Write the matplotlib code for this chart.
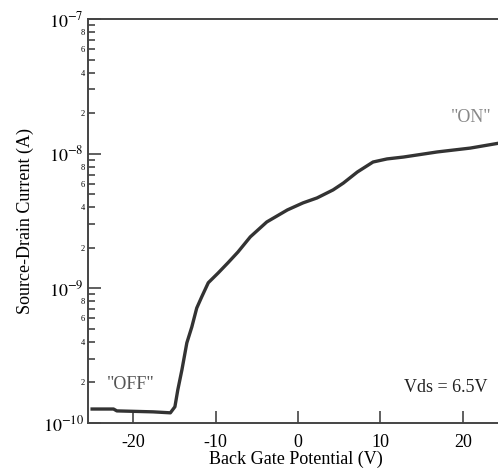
import numpy as np
import matplotlib
matplotlib.use('Agg')
import matplotlib.pyplot as plt
from matplotlib.ticker import LogLocator, FixedLocator, FuncFormatter

# gate voltage (V) and source-drain current (A)
vg = [-25.0, -22.4, -22.0, -17.6, -15.5, -14.95, -14.6, -14.1, -13.5, -12.9,
      -12.3, -11.7, -10.9, -9.7, -8.5, -7.3, -5.8, -3.8, -1.3, 0.6,
      2.3, 4.25, 5.5, 7.2, 9.1, 10.8, 12.8, 16.9, 20.9, 24.5]
ids = [1.27e-10, 1.27e-10, 1.23e-10, 1.21e-10, 1.19e-10, 1.32e-10, 1.76e-10, 2.48e-10, 3.94e-10, 5.16e-10,
       7.14e-10, 8.63e-10, 1.10e-9, 1.30e-9, 1.55e-9, 1.86e-9, 2.41e-9, 3.11e-9, 3.82e-9, 4.31e-9,
       4.69e-9, 5.38e-9, 6.05e-9, 7.31e-9, 8.67e-9, 9.14e-9, 9.44e-9, 1.03e-8, 1.10e-8, 1.20e-8]

xticks = [-20, -10, 0, 10, 20]
minor_labels = [2, 4, 6, 8]

plt.rcParams['font.family'] = ['Liberation Serif', 'DejaVu Serif']
plt.rcParams['mathtext.fontset'] = 'stix'

fig = plt.figure(figsize=(4.98, 4.68), dpi=100)
ax = fig.add_axes([88/498, 45/468, 416/498, 404/468])

ax.plot(vg, ids, color='#333333', lw=2.4)
ax.set_yscale('log')
ax.set_xlim(-25.5, 25)
ax.set_ylim(1e-10, 1e-7)

ax.spines['right'].set_visible(False)
for s in ['left', 'bottom', 'top']:
    ax.spines[s].set_color('#444444')
    ax.spines[s].set_linewidth(1.4)

ax.set_xticks(xticks)
ax.set_xticklabels([str(t) for t in xticks])
ax.yaxis.set_major_locator(FixedLocator([1e-10, 1e-9, 1e-8, 1e-7]))
ax.yaxis.set_major_formatter(FuncFormatter(lambda v, p: r'$10^{%d}$' % round(np.log10(v))))
ax.yaxis.set_minor_locator(FixedLocator([m * 10.0 ** e for e in (-10, -9, -8) for m in range(2, 10)]))

def minor_fmt(v, p):
    m = int(round(v / 10 ** np.floor(np.log10(v) + 1e-9)))
    return str(m) if m in minor_labels else ''
ax.yaxis.set_minor_formatter(FuncFormatter(minor_fmt))

ax.tick_params(axis='x', which='major', direction='in', length=9, width=1.2,
               color='#444444', labelsize=13, pad=8, top=False)
ax.tick_params(axis='x', which='minor', bottom=False, top=False)
ax.tick_params(axis='y', which='major', direction='in', length=9, width=1.2,
               color='#444444', labelsize=13, pad=3, right=False)
ax.tick_params(axis='y', which='minor', direction='in', length=5, width=1.2,
               color='#444444', labelsize=6, pad=2, right=False)

ax.set_xlabel('Back Gate Potential (V)', fontsize=13, labelpad=0)
ax.set_ylabel('Source-Drain Current (A)', fontsize=13, labelpad=6)

ax.text(-20.3, 1.92e-10, '"OFF"', fontsize=13, color='#555555', ha='center', va='center')
ax.text(21.0, 1.87e-8, '"ON"', fontsize=13, color='#888888', ha='center', va='center')
ax.text(17.9, 1.85e-10, 'Vds = 6.5V', fontsize=13, color='#222222', ha='center', va='center')

fig.savefig('out.png', dpi=100)
